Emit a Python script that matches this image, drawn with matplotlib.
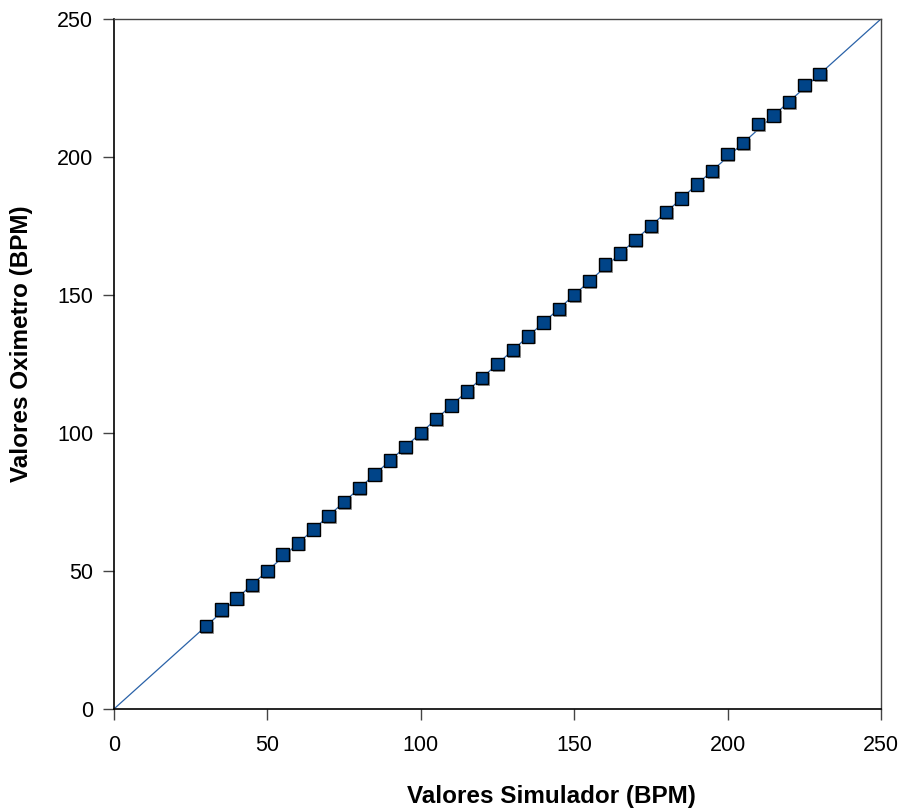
import matplotlib
matplotlib.use("Agg")
import matplotlib.pyplot as plt
import matplotlib.patheffects as pe

plt.rcParams["font.family"] = ["Liberation Sans", "DejaVu Sans"]

# simulator setpoints vs. oximeter readings (BPM)
simulador = [30, 35, 40, 45, 50, 55, 60, 65, 70, 75, 80, 85, 90, 95, 100,
             105, 110, 115, 120, 125, 130, 135, 140, 145, 150, 155, 160, 165,
             170, 175, 180, 185, 190, 195, 200, 205, 210, 215, 220, 225, 230]
oximetro = [30, 36, 40, 45, 50, 56, 60, 65, 70, 75, 80, 85, 90, 95, 100,
            105, 110, 115, 120, 125, 130, 135, 140, 145, 150, 155, 161, 165,
            170, 175, 180, 185, 190, 195, 201, 205, 212, 215, 220, 226, 230]

# identity reference line
ref_x = [0, 250]
ref_y = [0, 250]

ticks = [0, 50, 100, 150, 200, 250]

fig = plt.figure(figsize=(9.03, 8.11), dpi=100)
ax = fig.add_axes([0.1262, 0.1258, 0.8494, 0.8508])

ax.plot(ref_x, ref_y, color="#2a62a8", linewidth=0.9, zorder=2)
ax.plot(simulador, oximetro, linestyle="none", marker="s", markersize=9,
        markerfacecolor="#004488", markeredgecolor="black", markeredgewidth=1.0,
        zorder=3,
        path_effects=[pe.SimplePatchShadow(offset=(1.2, -1.2), shadow_rgbFace="#888888", alpha=0.8),
                      pe.Normal()])

ax.set_xlim(0, 250)
ax.set_ylim(0, 250)
ax.set_xticks(ticks)
ax.set_yticks(ticks)
ax.tick_params(direction="out", length=8, width=1, labelsize=15.5, color="#444444")
ax.tick_params(axis="x", pad=11)
ax.tick_params(axis="y", pad=7)

for side in ["left", "bottom"]:
    ax.spines[side].set_color("black")
    ax.spines[side].set_linewidth(1.2)
for side in ["top", "right"]:
    ax.spines[side].set_color("#444444")
    ax.spines[side].set_linewidth(1.0)

ax.set_xlabel("Valores Simulador (BPM)", fontsize=17.5, fontweight="bold")
ax.set_ylabel("Valores Oximetro (BPM)", fontsize=17.5, fontweight="bold")
ax.xaxis.set_label_coords(0.571, -0.1275)
ax.xaxis.label.set_va("center")
ax.yaxis.set_label_coords(-0.12, 0.529)
ax.yaxis.label.set_va("center")

fig.savefig("out.png", dpi=100, facecolor="white")
